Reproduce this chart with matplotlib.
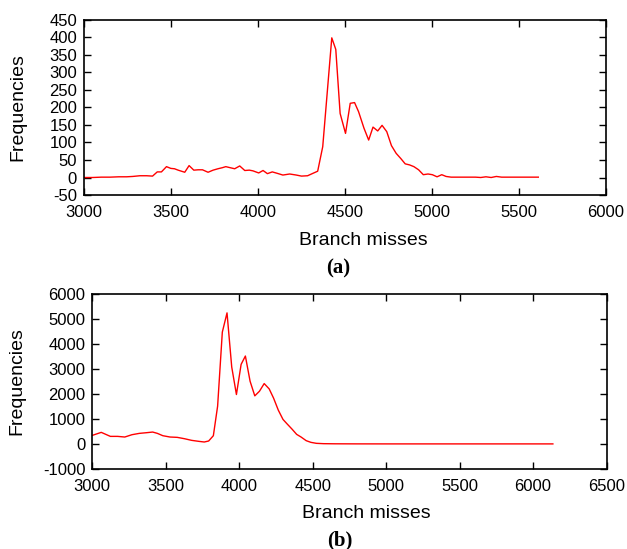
import matplotlib
matplotlib.use('Agg')
import matplotlib.pyplot as plt

plt.rcParams['font.family'] = ['Liberation Sans', 'DejaVu Sans']
plt.rcParams['axes.unicode_minus'] = False

# (a) branch-miss histogram
misses_a = [3000, 3050, 3100, 3150, 3200, 3245, 3280, 3321, 3360, 3394,
            3421, 3445, 3474, 3499, 3520, 3541, 3579, 3604, 3631, 3656,
            3681, 3713, 3742, 3770, 3795, 3815, 3840, 3866, 3895, 3924,
            3950, 3971, 4004, 4029, 4054, 4082, 4110, 4143, 4182, 4220,
            4250, 4285, 4316, 4343, 4372, 4424, 4447, 4472, 4503, 4530,
            4555, 4578, 4609, 4636, 4661, 4688, 4713, 4740, 4767, 4794,
            4821, 4846, 4871, 4896, 4923, 4950, 4977, 5002, 5029, 5056,
            5081, 5110, 5150, 5200, 5250, 5280, 5310, 5340, 5370, 5400,
            5450, 5500, 5550, 5611]
freq_a = [0, 0, 1, 1, 2, 2, 3, 5, 5, 4,
          16, 16, 31, 26, 25, 21, 15, 34, 21, 22,
          22, 15, 21, 25, 28, 31, 28, 25, 33, 20,
          21, 19, 13, 20, 11, 16, 12, 7, 10, 7,
          4, 5, 12, 18, 88, 399, 366, 183, 126, 212,
          214, 188, 141, 107, 144, 133, 149, 131, 91, 69,
          54, 39, 36, 31, 22, 8, 10, 8, 2, 8,
          3, 1, 1, 1, 1, 0, 2, 0, 3, 1,
          1, 1, 1, 1]

# (b)
misses_b = [3000, 3061, 3123, 3172, 3221, 3270, 3320, 3369, 3411, 3443,
            3480, 3529, 3578, 3627, 3676, 3725, 3762, 3792, 3824, 3853,
            3885, 3917, 3949, 3981, 4013, 4042, 4074, 4106, 4138, 4170,
            4204, 4234, 4266, 4298, 4327, 4359, 4391, 4421, 4456, 4488,
            4525, 4574, 4650, 4800, 5000, 5300, 5600, 5900, 6135]
freq_b = [345, 465, 305, 305, 279, 372, 425, 452, 478, 425,
          332, 279, 266, 212, 146, 106, 80, 120, 332, 1514,
          4475, 5245, 3081, 1979, 3187, 3519, 2510, 1926, 2112, 2417,
          2204, 1833, 1355, 983, 797, 598, 385, 279, 133, 66,
          27, 13, 8, 5, 4, 4, 4, 4, 4]

W, H = 627, 549
fig = plt.figure(figsize=(W / 100, H / 100), dpi=100)

ax1 = fig.add_axes([84 / W, 1 - 195 / H, 522 / W, 175 / H])
ax2 = fig.add_axes([92.3 / W, 1 - 469 / H, 514.2 / W, 175 / H])

for ax, x, y, xlim, ylim, step in [
        (ax1, misses_a, freq_a, (3000, 6000), (-50, 450), 50),
        (ax2, misses_b, freq_b, (3000, 6500), (-1000, 6000), 1000)]:
    ax.plot(x, y, color='red', lw=1.0)
    ax.set_xlim(*xlim)
    ax.set_ylim(*ylim)
    ax.set_xticks(range(xlim[0], xlim[1] + 1, 500))
    ax.set_yticks(range(ylim[0], ylim[1] + 1, step))
    ax.tick_params(direction='in', length=5, width=1, labelsize=12,
                   top=True, right=True)
    ax.tick_params(axis='x', pad=7)
    ax.tick_params(axis='y', pad=5)
    for s in ax.spines.values():
        s.set_linewidth(1.2)
    ax.set_xlabel('Branch misses', fontsize=14)
    ax.set_ylabel('Frequencies', fontsize=14, va='center')

ax1.xaxis.set_label_coords(0.536, -0.21)
ax2.xaxis.set_label_coords(0.532, -0.205)
ax1.yaxis.set_label_coords(-0.126, 0.5)
ax2.yaxis.set_label_coords(-0.146, 0.5)

fig.text(338 / W, 1 - 268 / H, '(a)', ha='center', va='center',
         fontsize=15, fontweight='bold', family='Liberation Serif')
fig.text(340 / W, 1 - 540 / H, '(b)', ha='center', va='center',
         fontsize=15, fontweight='bold', family='Liberation Serif')

fig.savefig('out.png', dpi=100)
